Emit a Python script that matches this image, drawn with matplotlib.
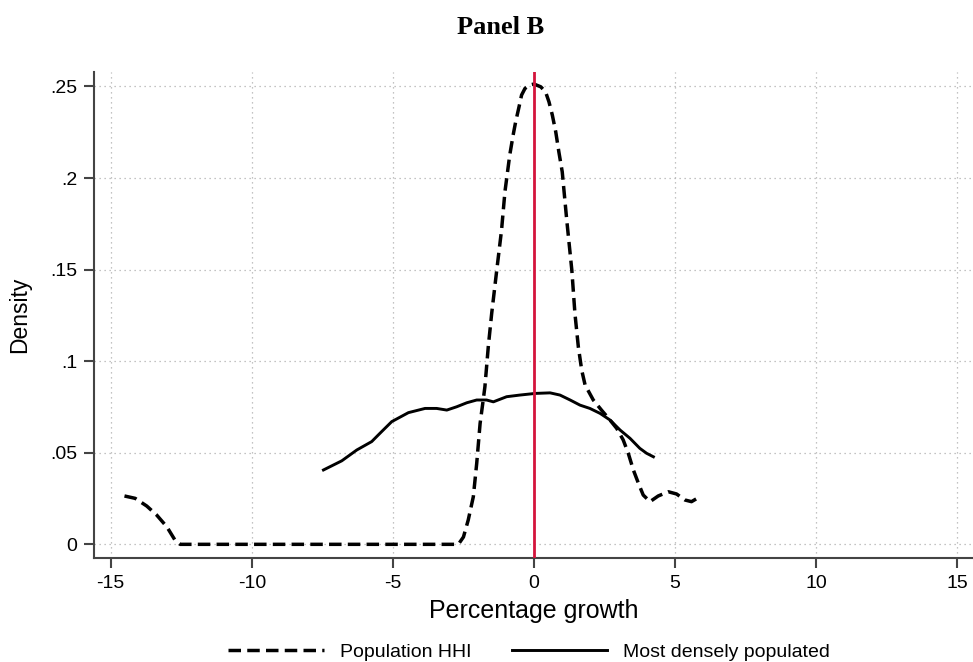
import numpy as np
import matplotlib
matplotlib.use("Agg")
import matplotlib.pyplot as plt
from matplotlib.ticker import FuncFormatter

plt.rcParams['font.family'] = ['Liberation Sans', 'DejaVu Sans']
plt.rcParams['axes.unicode_minus'] = False

# Population HHI density (dashed)
hhi_x = [-14.51, -14.13, -13.72, -13.37, -13.01, -12.72, -12.54, -8.0, -4.0, -2.68,
         -2.5, -2.33, -2.15, -2.03, -1.91, -1.8, -1.74, -1.62, -1.5, -1.32, -1.15,
         -1.03, -0.86, -0.74, -0.65, -0.53, -0.44, -0.32, -0.15, 0.0, 0.24, 0.41,
         0.53, 0.65, 0.77, 0.88, 1.0, 1.16, 1.34, 1.45, 1.57, 1.69, 1.81, 2.1, 2.39,
         2.69, 2.93, 3.16, 3.34, 3.52, 3.7, 3.87, 4.11, 4.4, 4.76, 5.05, 5.35, 5.58,
         5.88]
hhi_y = [0.0264, 0.0251, 0.0209, 0.016, 0.0096, 0.0023, 0.0, 0.0, 0.0, 0.0,
         0.004, 0.0133, 0.026, 0.0442, 0.066, 0.0788, 0.086, 0.1079, 0.126, 0.1497,
         0.1716, 0.1925, 0.2125, 0.2234, 0.2307, 0.2389, 0.2453, 0.2489, 0.2508,
         0.2513, 0.2498, 0.247, 0.2416, 0.2343, 0.2252, 0.2143, 0.2034, 0.177,
         0.1497, 0.126, 0.1079, 0.0951, 0.087, 0.0788, 0.0733, 0.0679, 0.0633,
         0.057, 0.0497, 0.0406, 0.0333, 0.0269, 0.0233, 0.0264, 0.0287, 0.0275,
         0.0242, 0.0233, 0.026]

# Most densely populated density (solid)
dense_x = [-7.46, -6.81, -6.28, -5.75, -5.46, -5.04, -4.45, -3.86, -3.45, -3.09,
           -2.74, -2.38, -2.03, -1.68, -1.44, -0.97, -0.5, 0.05, 0.57, 0.92, 1.28,
           1.63, 1.98, 2.34, 2.69, 3.05, 3.4, 3.75, 3.99, 4.23]
dense_y = [0.0406, 0.0456, 0.0515, 0.0561, 0.0606, 0.067, 0.0719, 0.0742, 0.0742,
           0.0733, 0.0751, 0.0773, 0.0788, 0.0788, 0.0778, 0.0806, 0.0815, 0.0824,
           0.0827, 0.0815, 0.0788, 0.076, 0.0742, 0.0715, 0.0679, 0.0624, 0.0579,
           0.0524, 0.0497, 0.0478]

x_ticks = [-15, -10, -5, 0, 5, 10, 15]
y_ticks = [0, 0.05, 0.1, 0.15, 0.2, 0.25]

fig = plt.figure(figsize=(9.73, 6.62), dpi=100)
ax = fig.add_axes([0.0966, 0.157, 0.903, 0.734])

ax.plot(hhi_x, hhi_y, color='black', linestyle=(0, (3.6, 1.8)), linewidth=2.5,
        label='Population HHI')
ax.plot(dense_x, dense_y, color='black', linestyle='-', linewidth=2.1,
        label='Most densely populated')
ax.axvline(0, color='#d4143c', linewidth=2.0, zorder=3)

ax.set_xlim(-15.59, 15.54)
ax.set_ylim(-0.0075, 0.2578)
ax.set_xticks(x_ticks)
ax.set_yticks(y_ticks)
ax.yaxis.set_major_formatter(FuncFormatter(
    lambda v, p: '0' if v == 0 else ('%g' % v).lstrip('0')))
ax.grid(True, linestyle=(0, (1, 3)), color='#b0b0b0', linewidth=0.9)
ax.set_axisbelow(True)

for side in ['top', 'right']:
    ax.spines[side].set_visible(False)
for side in ['left', 'bottom']:
    ax.spines[side].set_color('#444444')
    ax.spines[side].set_linewidth(1.5)
ax.tick_params(direction='out', length=7, width=1.5, color='#444444',
               labelsize=14, pad=5)

ax.set_xlabel('Percentage growth', fontsize=18, labelpad=5)
ax.set_ylabel('Density', fontsize=16.5, labelpad=14)

fig.text(0.515, 0.958, 'Panel B', ha='center', va='center', fontsize=19,
         fontweight='bold', family='Liberation Serif')

fig.legend(loc='center', bbox_to_anchor=(0.544, 0.015), ncol=2, frameon=False,
           fontsize=14, handlelength=4.9, columnspacing=2.05, handletextpad=0.85)

fig.savefig('out.png', dpi=100)
